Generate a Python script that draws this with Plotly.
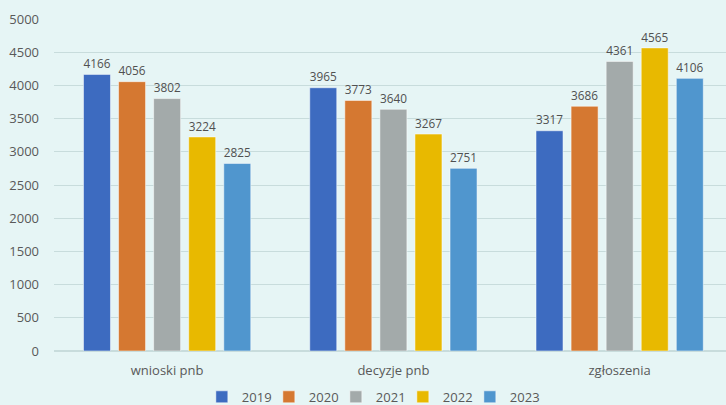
import plotly.graph_objects as go

categories = ["wnioski pnb", "decyzje pnb", "zgłoszenia"]
years = ["2019", "2020", "2021", "2022", "2023"]
values = {
    "2019": [4166, 3965, 3317],
    "2020": [4056, 3773, 3686],
    "2021": [3802, 3640, 4361],
    "2022": [3224, 3267, 4565],
    "2023": [2825, 2751, 4106],
}
colors = ["#3D6BC0", "#D57831", "#A3AAAA", "#E8B900", "#5096CE"]
y_ticks = list(range(0, 5001, 500))
BG = "#E6F5F5"

legend_ids = ["legend", "legend2", "legend3", "legend4", "legend5"]

fig = go.Figure()
for yr, c, lid in zip(years, colors, legend_ids):
    fig.add_trace(go.Bar(
        name=yr, x=categories, y=values[yr],
        marker=dict(color=c, line=dict(color="rgba(255,255,255,0.5)", width=1)),
        text=[str(v) for v in values[yr]], textposition="outside",
        textfont=dict(size=14, color="#505050", family="Open Sans"),
        cliponaxis=False,
        legend=lid,
    ))

STEP = 67 / 672
LX = 0.220
LY = -0.093
leg_common = dict(orientation="h", xanchor="left", y=LY, yanchor="top",
                  font=dict(size=13, color="#595959"), itemwidth=30,
                  traceorder="normal", bgcolor="rgba(0,0,0,0)")
legend_layout = {lid: dict(x=LX + i * STEP, **leg_common) for i, lid in enumerate(legend_ids)}

fig.update_layout(
    width=726, height=405,
    margin=dict(l=54, r=0, t=19, b=54, autoexpand=False),
    paper_bgcolor=BG, plot_bgcolor=BG,
    barmode="group", bargap=0.225, bargroupgap=0.23,
    font=dict(family="Open Sans", size=13, color="#595959"),
    showlegend=True,
    xaxis=dict(range=[-0.5, 2.47], showgrid=False, showline=False, ticks="",
               automargin=False, ticklabelstandoff=10,
               tickfont=dict(size=13, color="#595959")),
    yaxis=dict(range=[0, 5000], tickvals=y_ticks, showgrid=True, gridcolor="#C8DCDC",
               gridwidth=1, zeroline=True, zerolinecolor="#C8DCDC", showline=False,
               automargin=False,
               ticks="", ticklabelstandoff=14, tickfont=dict(size=13, color="#595959")),
    **legend_layout,
)
fig.write_html(
    "out.html",
    config={"displayModeBar": False},
    post_script="document.body.style.margin='0';document.body.style.background='" + BG + "';",
)
